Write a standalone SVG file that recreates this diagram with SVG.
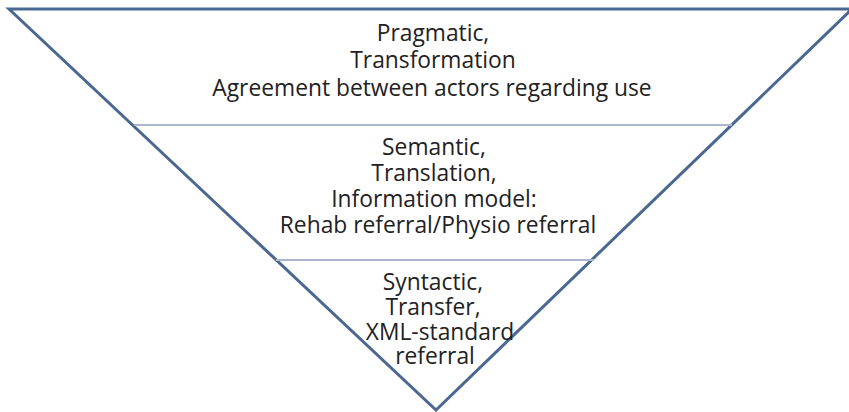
<svg xmlns="http://www.w3.org/2000/svg" width="849" height="412" viewBox="0 0 849 412">
<style>
.tri{fill:none;stroke:#4a6892;stroke-width:3;stroke-linejoin:miter}
.div{stroke:#a9b6cc;stroke-width:2}
text{font-family:"Open Sans","Liberation Sans",sans-serif;font-size:22.8px;fill:#222;text-anchor:middle}
</style>
<rect width="849" height="412" fill="#fff"/>
<g id="pyramid">
<polygon class="tri" points="9,9 852,9 436,410"/>
</g>
<g id="connectors">
<line class="div" x1="134" y1="125" x2="732" y2="125"/>
<line class="div" x1="276" y1="260" x2="594" y2="260"/>
</g>
<g id="pragmatic">
<text x="433" y="41">Pragmatic,</text>
<text x="433" y="68">Transformation</text>
<text x="432" y="96">Agreement between actors regarding use</text>
</g>
<g id="semantic">
<text x="434" y="155">Semantic,</text>
<text x="434" y="181">Translation,</text>
<text x="434" y="207">Information model:</text>
<text x="438" y="233">Rehab referral/Physio referral</text>
</g>
<g id="syntactic">
<text x="433" y="290">Syntactic,</text>
<text x="433" y="315">Transfer,</text>
<text x="440" y="340">XML-standard</text>
<text x="435" y="364">referral</text>
</g>
</svg>
